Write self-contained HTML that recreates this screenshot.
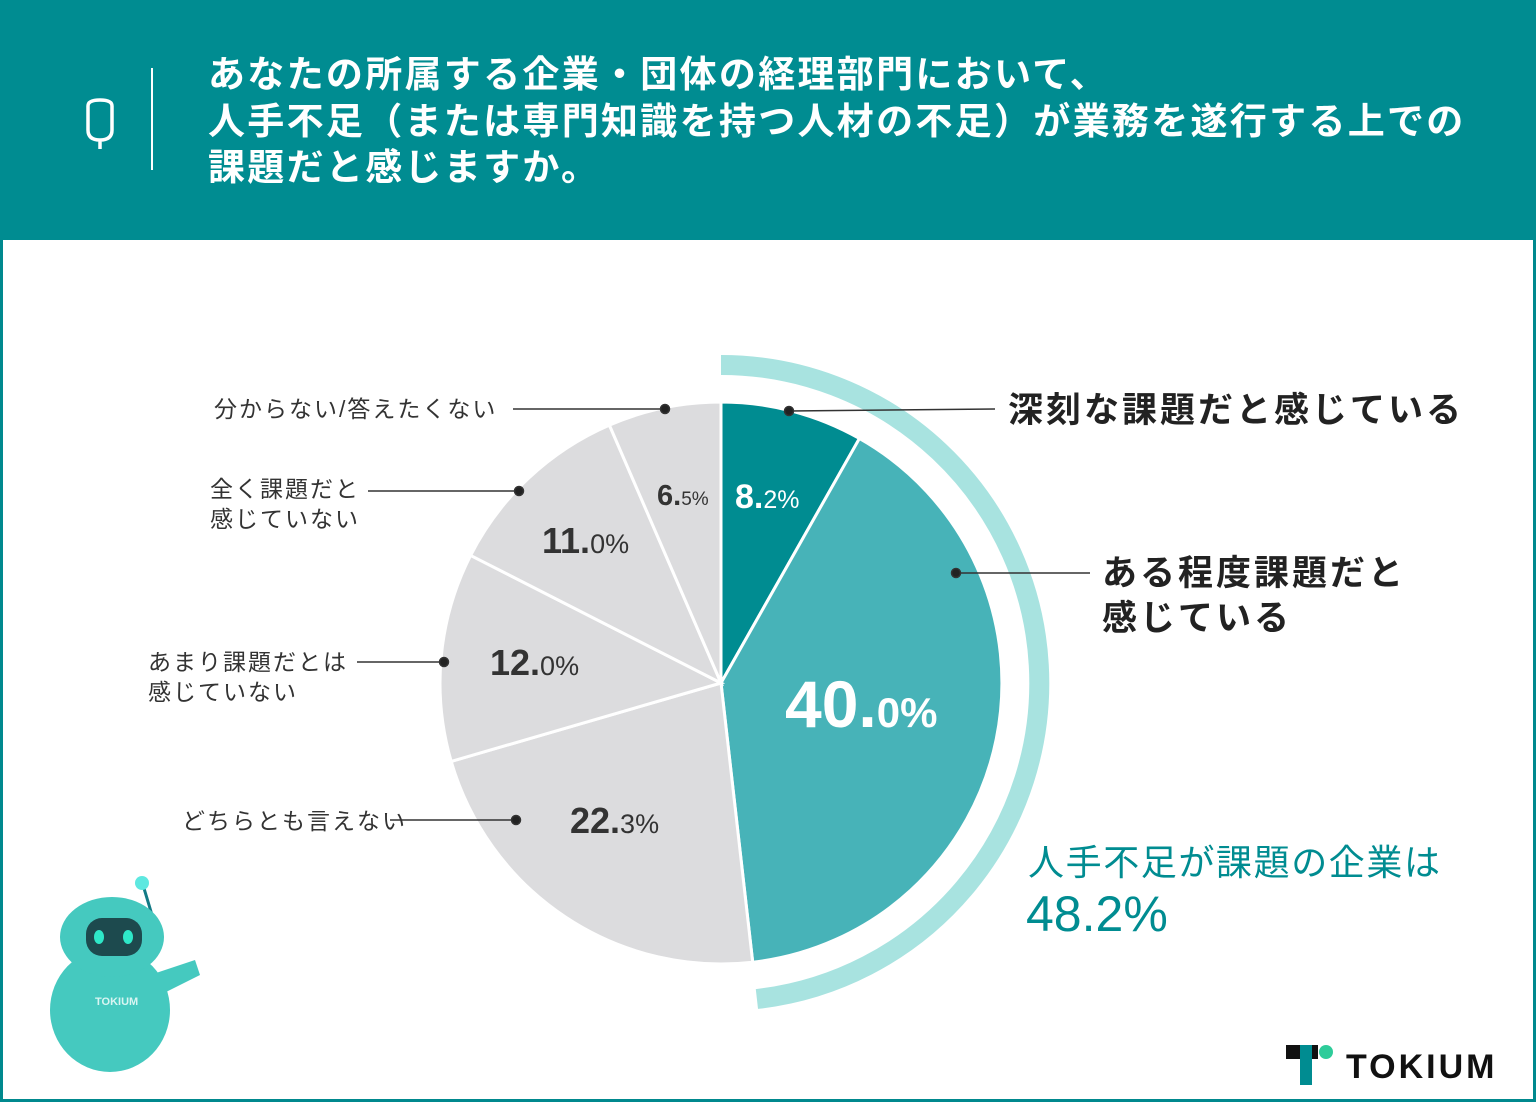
<!DOCTYPE html>
<html><head><meta charset="utf-8"><style>
html,body{margin:0;padding:0;}
body{width:1536px;height:1102px;position:relative;overflow:hidden;background:#fff;font-family:"Liberation Sans","Noto Sans CJK JP",sans-serif;}
</style></head><body>
<svg width="1536" height="1102" viewBox="0 0 1536 1102" xmlns="http://www.w3.org/2000/svg" style="position:absolute;left:0;top:0" font-family="'Liberation Sans','Noto Sans CJK JP',sans-serif">
<rect x="1.5" y="1.5" width="1533" height="1099" fill="#fff" stroke="#00898e" stroke-width="3"/>
<rect x="0" y="0" width="1536" height="240" fill="#008c91"/>
<path d="M88,106 Q88,100 100,100 Q112,100 112,106 L112,130 Q112,140 100,140 Q88,140 88,130 Z M100,140 L100,149" fill="none" stroke="#fff" stroke-width="3.5"/>
<line x1="152" y1="68" x2="152" y2="170" stroke="#fff" stroke-width="2"/>
<g fill="#fff" font-size="37" font-weight="bold" letter-spacing="2.3">
<text x="208" y="87">あなたの所属する企業・団体の経理部門において、</text>
<text x="208" y="134">人手不足（または専門知識を持つ人材の不足）が業務を遂行する上での</text>
<text x="208" y="180">課題だと感じますか。</text>
</g>
<path d="M721,365 A318,318 0 0 1 756.9,999" fill="none" stroke="#a8e3e0" stroke-width="20"/>
<g stroke="#fff" stroke-width="3">
<path d="M721,683 L721,402 A281,281 0 0 1 859.4,438.5 Z" fill="#008c91"/>
<path d="M721,683 L859.4,438.5 A281,281 0 0 1 752.7,962.2 Z" fill="#47b3b8"/>
<path d="M721,683 L752.7,962.2 A281,281 0 0 1 451.2,761.4 Z" fill="#dcdcde"/>
<path d="M721,683 L451.2,761.4 A281,281 0 0 1 470.6,555.4 Z" fill="#dcdcde"/>
<path d="M721,683 L470.6,555.4 A281,281 0 0 1 609.4,425.1 Z" fill="#dcdcde"/>
<path d="M721,683 L609.4,425.1 A281,281 0 0 1 721,402 Z" fill="#dcdcde"/>
</g>
<g font-weight="bold">
<text x="735" y="508" fill="#fff" font-size="34">8.<tspan font-size="25" font-weight="normal">2%</tspan></text>
<text x="785" y="727" fill="#fff" font-size="66">40.<tspan font-size="42">0%</tspan></text>
<text x="570" y="833" fill="#333" font-size="36">22.<tspan font-size="27" font-weight="normal">3%</tspan></text>
<text x="490" y="675" fill="#333" font-size="36">12.<tspan font-size="27" font-weight="normal">0%</tspan></text>
<text x="542" y="553" fill="#333" font-size="36">11.<tspan font-size="27" font-weight="normal">0%</tspan></text>
<text x="657" y="505" fill="#333" font-size="29">6.<tspan font-size="19" font-weight="normal">5%</tspan></text>
</g>
<g stroke="#333" stroke-width="1.5" fill="#222">
<line x1="789" y1="411" x2="995" y2="409"/><circle cx="789" cy="411" r="4.5"/>
<line x1="956" y1="573" x2="1090" y2="573"/><circle cx="956" cy="573" r="4.5"/>
<line x1="665" y1="409" x2="513" y2="409"/><circle cx="665" cy="409" r="4.5"/>
<line x1="519" y1="491" x2="368" y2="491"/><circle cx="519" cy="491" r="4.5"/>
<line x1="444" y1="662" x2="357" y2="662"/><circle cx="444" cy="662" r="4.5"/>
<line x1="516" y1="820" x2="390" y2="820"/><circle cx="516" cy="820" r="4.5"/>
</g>
<g fill="#333" font-size="23" letter-spacing="2">
<text x="214" y="417">分からない/答えたくない</text>
<text x="210" y="497">全く課題だと</text>
<text x="210" y="527">感じていない</text>
<text x="148" y="670">あまり課題だとは</text>
<text x="148" y="700">感じていない</text>
<text x="182" y="829">どちらとも言えない</text>
</g>
<g fill="#222" font-size="35" font-weight="bold" letter-spacing="3">
<text x="1008" y="422">深刻な課題だと感じている</text>
<text x="1102" y="585">ある程度課題だと</text>
<text x="1102" y="630">感じている</text>
</g>
<text x="1028" y="875" fill="#008c91" font-size="36" letter-spacing="1.6">人手不足が課題の企業は</text>
<text x="1026" y="931" fill="#008c91" font-size="50">48.2%</text>
<g>
<line x1="143" y1="885" x2="155" y2="925" stroke="#137a85" stroke-width="3"/>
<circle cx="142" cy="883" r="7" fill="#5ee8e0"/>
<ellipse cx="110" cy="1010" rx="60" ry="62" fill="#45c9bf"/>
<path d="M150,975 L195,960 L200,975 L160,995 Z" fill="#45c9bf"/>
<ellipse cx="112" cy="937" rx="52" ry="40" fill="#45c9bf"/>
<rect x="86" y="918" width="56" height="38" rx="16" fill="#1d4a4e"/>
<ellipse cx="99" cy="937" rx="5" ry="7" fill="#2ee8c8"/>
<ellipse cx="128" cy="937" rx="5" ry="7" fill="#2ee8c8"/>
<text x="95" y="1005" fill="#d9f5f2" font-size="11" font-weight="bold">TOKIUM</text>
</g>
<g>
<rect x="1286" y="1045" width="32" height="14" fill="#111"/>
<rect x="1300" y="1045" width="12" height="40" fill="#008c91"/>
<circle cx="1326" cy="1052" r="7" fill="#2ecc9a"/>
<text x="1346" y="1078" fill="#111" font-size="34" font-weight="bold" letter-spacing="3">TOKIUM</text>
</g>
</svg>
</body></html>
